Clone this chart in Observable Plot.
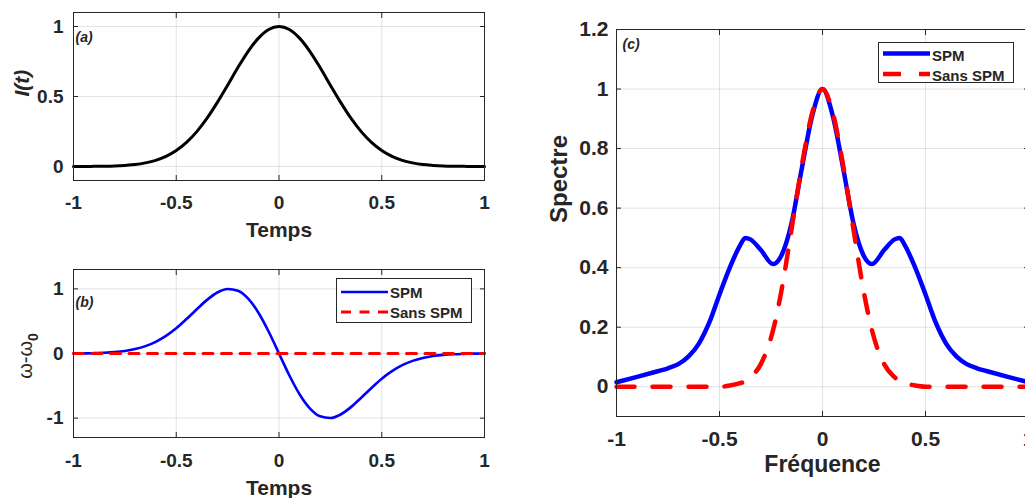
<!DOCTYPE html>
<html>
<head>
<meta charset="utf-8">
<script src="https://cdn.jsdelivr.net/npm/d3@7"></script>
<script src="https://cdn.jsdelivr.net/npm/@observablehq/plot@0.6"></script>
<style>
html, body { margin: 0; padding: 0; background: #fff; overflow: hidden; }
#root { position: relative; width: 1025px; height: 498px; overflow: hidden; background: #fff;
  font-family: "Liberation Sans", Arial, sans-serif; color: #262626; }
.panel { position: absolute; }
.legend { position: absolute; }
</style>
</head>
<body>
<div id="root">
  <div class="panel" id="pa" style="left:0;top:0;width:500px;height:250px"></div>
  <div class="panel" id="pb" style="left:0;top:250px;width:500px;height:248px"></div>
  <div class="panel" id="pc" style="left:540px;top:0;width:500px;height:498px"></div>
</div>
<script>
// ---------- data ----------
const xTicks  = [-1, -0.5, 0, 0.5, 1];
const yTicksA = [0, 0.5, 1];
const yTicksB = [-1, 0, 1];
const yTicksC = [0, 0.2, 0.4, 0.6, 0.8, 1, 1.2];

// (a) intensity profile I(t)
const timeA = [-1,-0.95,-0.9,-0.85,-0.8,-0.75,-0.7,-0.65,-0.6,-0.55,-0.5,-0.45,-0.4,-0.35,-0.3,-0.25,-0.2,-0.15,-0.1,-0.05,0,
  0.05,0.1,0.15,0.2,0.25,0.3,0.35,0.4,0.45,0.5,0.55,0.6,0.65,0.7,0.75,0.8,0.85,0.9,0.95,1];
const intensityA = [0,0,0.001,0.002,0.004,0.008,0.014,0.026,0.044,0.072,0.114,0.172,0.249,0.345,0.458,0.581,0.707,0.823,0.917,0.979,1,
  0.979,0.917,0.823,0.707,0.581,0.458,0.345,0.249,0.172,0.114,0.072,0.044,0.026,0.014,0.008,0.004,0.002,0.001,0,0];

// (b) frequency shift ω-ω0
const timeB = timeA;
const chirpB = [0.001,0.002,0.006,0.011,0.021,0.039,0.069,0.114,0.181,0.273,0.39,0.533,0.685,0.83,0.944,0.998,0.971,0.848,0.63,0.336,0,
  -0.336,-0.63,-0.848,-0.971,-0.998,-0.944,-0.83,-0.685,-0.533,-0.39,-0.273,-0.181,-0.114,-0.069,-0.039,-0.021,-0.011,-0.006,-0.002,-0.001];
const timeSansB = [-1, 1];
const sansB = [0, 0];

// (c) spectra
const freqC = [-1,-0.9,-0.8,-0.75,-0.7,-0.65,-0.6,-0.55,-0.5,-0.45,-0.4,-0.375,-0.35,-0.3,-0.24,-0.2,-0.15,-0.1,-0.05,0,
  0.05,0.1,0.15,0.2,0.24,0.3,0.35,0.375,0.4,0.45,0.5,0.55,0.6,0.65,0.7,0.75,0.8,0.9,1];
const spmC = [0.015,0.033,0.052,0.062,0.076,0.102,0.145,0.215,0.31,0.40,0.475,0.50,0.495,0.46,0.412,0.44,0.55,0.735,0.91,1,
  0.91,0.735,0.55,0.44,0.412,0.46,0.495,0.50,0.475,0.40,0.31,0.215,0.145,0.102,0.076,0.062,0.052,0.033,0.015];
const sansC = [0,0,0,0,0,0,0,0,0,0.004,0.012,0.018,0.032,0.075,0.19,0.32,0.53,0.745,0.92,1,
  0.92,0.745,0.53,0.32,0.19,0.075,0.032,0.018,0.012,0.004,0,0,0,0,0,0,0,0,0];

// ---------- styling ----------
const ink = "#262626";
const fmt = d => String(d);
const FONT = "'Liberation Sans', Arial, sans-serif";

function box(xt, yt, fs, xPad, yPad) {
  return [
    Plot.gridX(xt, {stroke: ink, strokeOpacity: 0.13}),
    Plot.gridY(yt, {stroke: ink, strokeOpacity: 0.13}),
    Plot.axisX(xt, {anchor: "bottom", tickSize: -5, tickFormat: () => "", label: null, stroke: ink}),
    Plot.axisX(xt, {anchor: "top", tickSize: -5, tickFormat: () => "", label: null, stroke: ink}),
    Plot.axisY(yt, {anchor: "left", tickSize: -5, tickFormat: () => "", label: null, stroke: ink}),
    Plot.axisY(yt, {anchor: "right", tickSize: -5, tickFormat: () => "", label: null, stroke: ink}),
    Plot.axisX(xt, {anchor: "bottom", tickSize: 0, tickPadding: xPad, tickFormat: fmt, label: null,
      fontSize: fs, fontWeight: "bold", fill: ink}),
    Plot.axisY(yt, {anchor: "left", tickSize: 0, tickPadding: yPad, tickFormat: fmt, label: null,
      fontSize: fs, fontWeight: "bold", fill: ink})
  ];
}

function makePlot(el, opts) {
  const p = Plot.plot({
    width: 500,
    height: opts.height,
    marginLeft: opts.ml, marginRight: opts.mr, marginTop: opts.mt, marginBottom: opts.mb,
    x: {domain: [-1, 1]},
    y: {domain: opts.yDomain},
    style: {fontFamily: FONT, color: ink, background: "transparent", overflow: "visible"},
    marks: opts.marks
  });
  document.getElementById(el).appendChild(p);
  return p;
}

// ---------- (a) ----------
makePlot("pa", {
  height: 250, ml: 73, mr: 16, mt: 12, mb: 70, yDomain: [-0.1, 1.1],
  marks: [
    ...box(xTicks, yTicksA, 19, 15, 10),
    Plot.line(intensityA, {x: timeA, y: intensityA, stroke: "#000", strokeWidth: 3, curve: "monotone-x"}),
    Plot.frame({stroke: ink}),
    Plot.text(["(a)"], {frameAnchor: "top-left", dx: 2, dy: 20, lineAnchor: "top", textAnchor: "start",
      fontSize: 14, fontWeight: "bold", fontStyle: "italic", fill: ink}),
    Plot.text(["Temps"], {frameAnchor: "bottom", dy: 42, lineAnchor: "top", fontSize: 21, fontWeight: "bold", fill: ink}),
    Plot.text(["I(t)"], {frameAnchor: "left", dx: -51, rotate: -90, lineAnchor: "middle", fontSize: 21,
      fontWeight: "bold", fontStyle: "italic", fill: ink})
  ]
});

// ---------- (b) ----------
const pb = makePlot("pb", {
  height: 248, ml: 73, mr: 16, mt: 19, mb: 61, yDomain: [-1.3, 1.3],
  marks: [
    ...box(xTicks, yTicksB, 19, 16, 10),
    Plot.line(chirpB, {x: timeB, y: chirpB, stroke: "#0000ff", strokeWidth: 2.6, curve: "monotone-x"}),
    Plot.line(sansB, {x: timeSansB, y: sansB, stroke: "#ff0000", strokeWidth: 3, strokeDasharray: "10,8.5"}),
    Plot.frame({stroke: ink}),
    Plot.text(["(b)"], {frameAnchor: "top-left", dx: 2, dy: 28, lineAnchor: "top", textAnchor: "start",
      fontSize: 14, fontWeight: "bold", fontStyle: "italic", fill: ink}),
    Plot.text(["Temps"], {frameAnchor: "bottom", dy: 43, lineAnchor: "top", fontSize: 21, fontWeight: "bold", fill: ink})
  ]
});
// y label ω-ω0 with subscript
{
  const t = d3.select(pb).append("text")
    .attr("transform", "translate(32,106) rotate(-90)")
    .attr("text-anchor", "middle")
    .attr("fill", ink)
    .attr("font-family", FONT);
  t.append("tspan").attr("font-size", 20).text("ω-ω");
  t.append("tspan").attr("font-size", 14).attr("font-weight", "bold").attr("dy", 6).text("0");
}

// ---------- (c) ----------
makePlot("pc", {
  height: 498, ml: 76, mr: 12, mt: 29, mb: 82, yDomain: [-0.1, 1.2],
  marks: [
    ...box(xTicks, yTicksC, 21, 15, 8),
    Plot.line(spmC, {x: freqC, y: spmC, stroke: "#0000ff", strokeWidth: 4.5, curve: "monotone-x"}),
    Plot.line(sansC, {x: freqC, y: sansC, stroke: "#ff0000", strokeWidth: 4.5, strokeDasharray: "18,18", curve: "monotone-x"}),
    Plot.frame({stroke: ink}),
    Plot.text(["(c)"], {frameAnchor: "top-left", dx: 6, dy: 10, lineAnchor: "top", textAnchor: "start",
      fontSize: 14, fontWeight: "bold", fontStyle: "italic", fill: ink}),
    Plot.text(["Fréquence"], {frameAnchor: "bottom", dy: 39, lineAnchor: "top", fontSize: 23, fontWeight: "bold", fill: ink}),
    Plot.text(["Spectre"], {frameAnchor: "left", dx: -57, rotate: -90, lineAnchor: "middle", fontSize: 24,
      fontWeight: "bold", fill: ink})
  ]
});

// ---------- legends ----------
const legendNames = ["SPM", "Sans SPM"];
function legend(left, top, w, h, rows, styles) {
  const svg = d3.select("#root").append("svg")
    .attr("class", "legend")
    .style("left", left + "px").style("top", top + "px")
    .attr("width", w).attr("height", h);
  svg.append("rect").attr("x", 0.5).attr("y", 0.5).attr("width", w - 1).attr("height", h - 1)
    .attr("fill", "#fff").attr("stroke", ink);
  legendNames.forEach((name, i) => {
    const s = styles[i];
    svg.append("line").attr("x1", 5).attr("x2", 52).attr("y1", rows[i].line).attr("y2", rows[i].line)
      .attr("stroke", s.color).attr("stroke-width", s.width).attr("stroke-dasharray", s.dash || null);
    svg.append("text").attr("x", 54).attr("y", rows[i].base).text(name)
      .attr("font-family", FONT).attr("font-weight", "bold").attr("font-size", 15).attr("fill", ink);
  });
}
legend(336, 278, 136, 45, [{line: 14, base: 19.5}, {line: 34, base: 40}],
  [{color: "#0000ff", width: 2.6}, {color: "#ff0000", width: 3, dash: "10,8.5"}]);
legend(878, 42, 136, 41, [{line: 11.5, base: 18.5}, {line: 32, base: 38.5}],
  [{color: "#0000ff", width: 4.5}, {color: "#ff0000", width: 4.5, dash: "18,18"}]);
</script>
</body>
</html>
